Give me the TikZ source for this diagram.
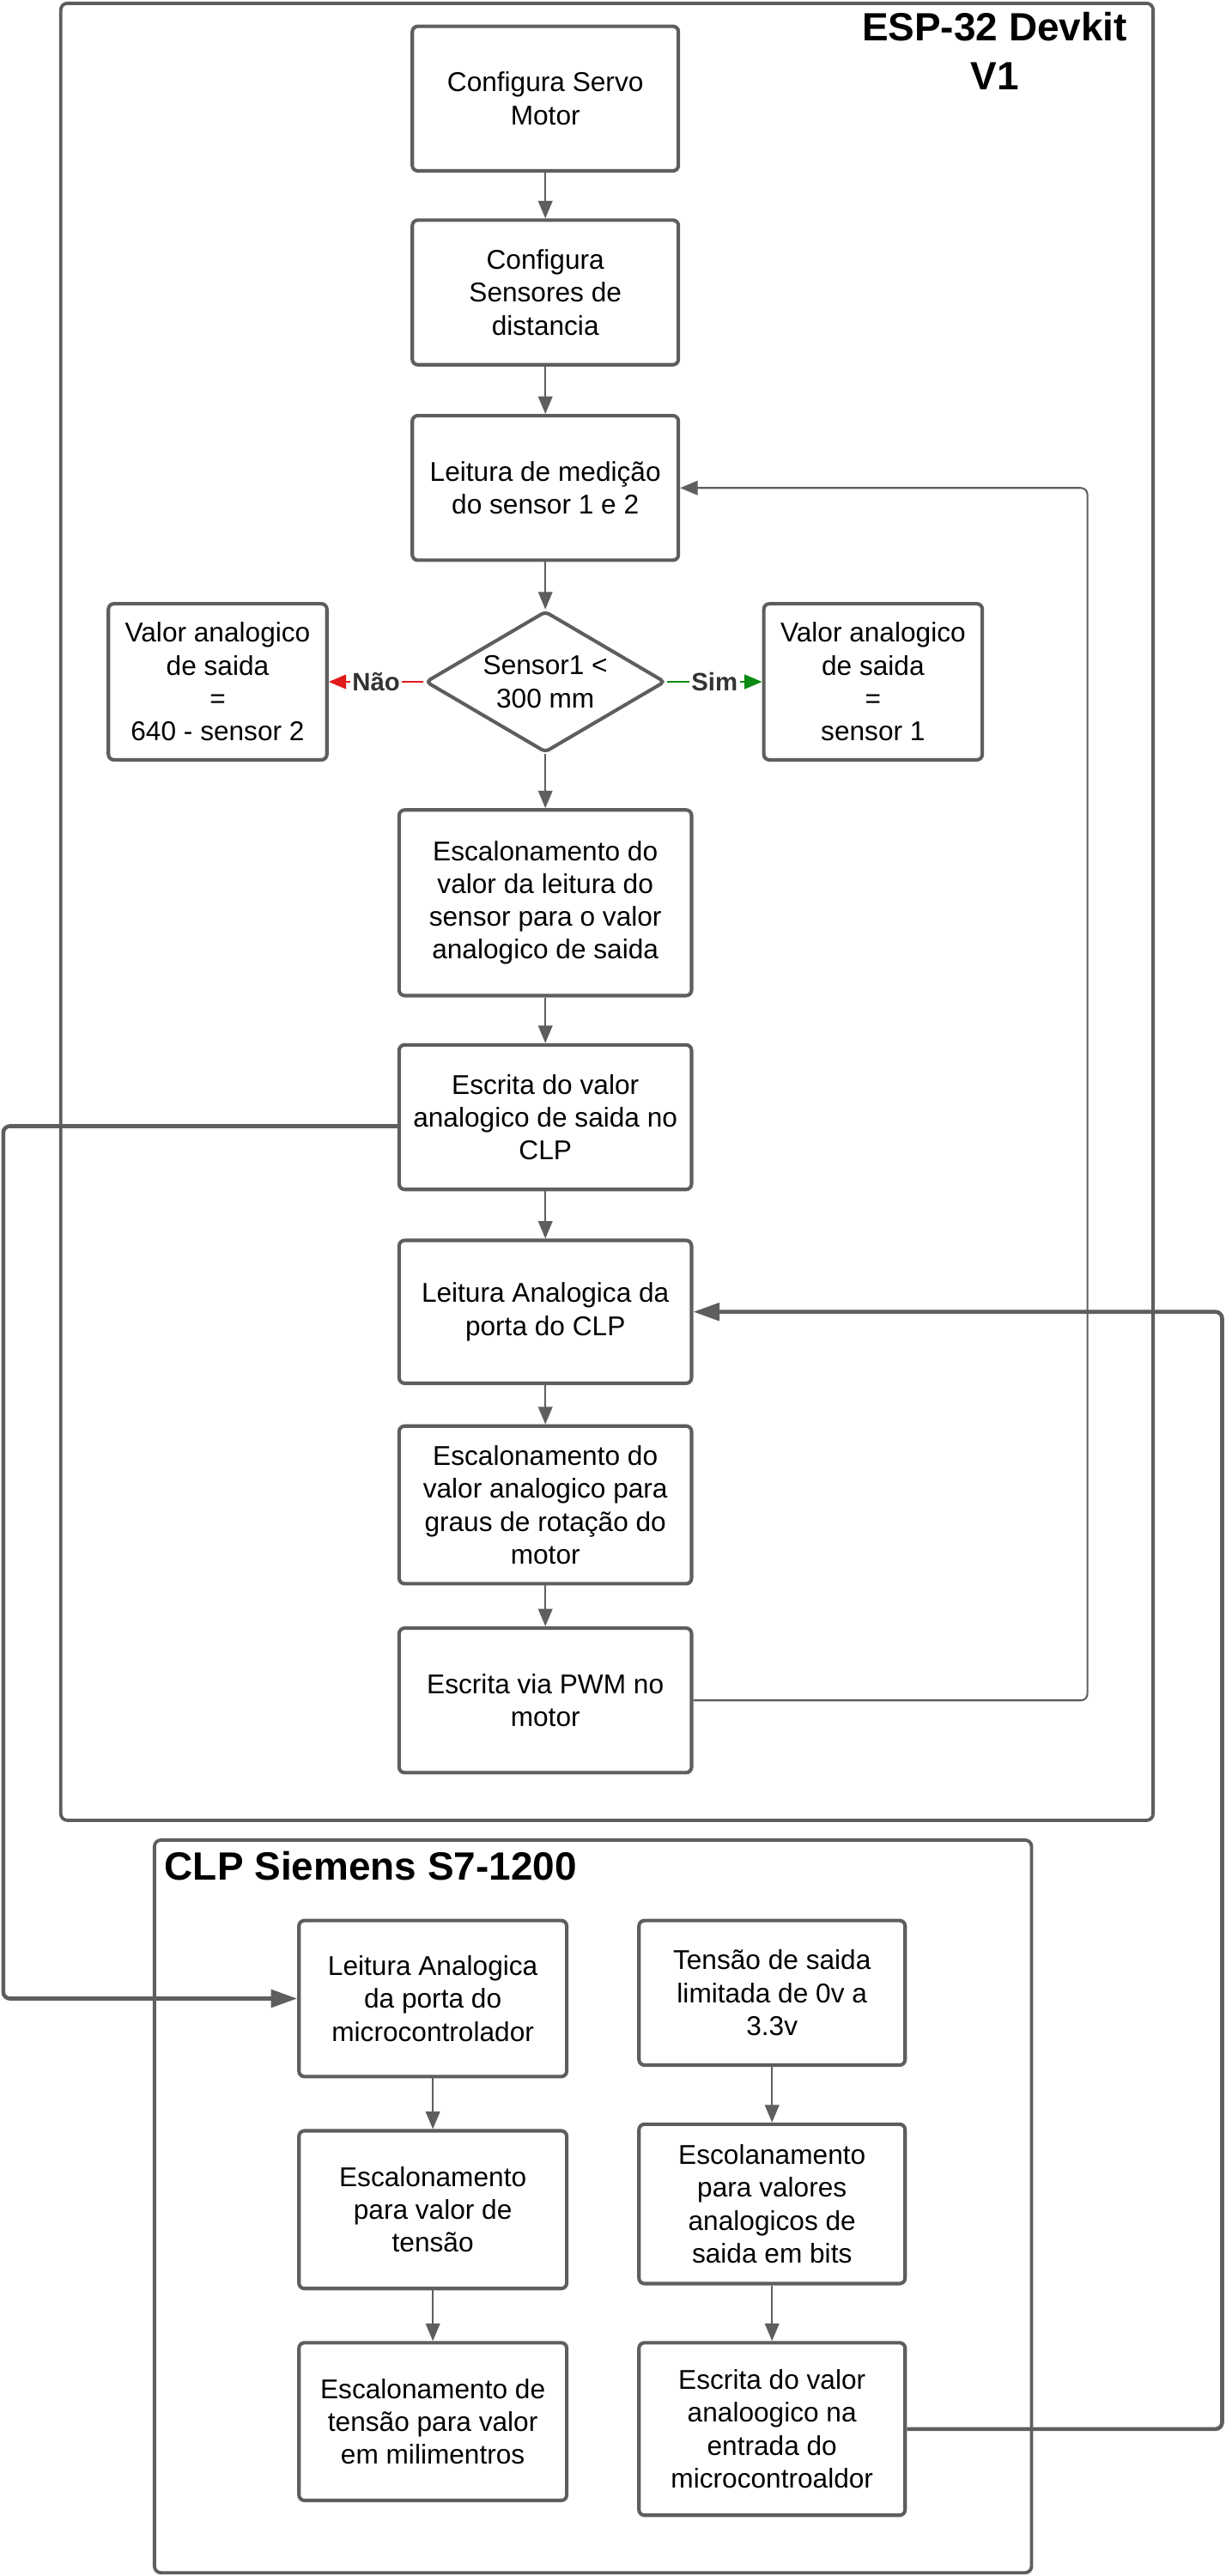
\documentclass[tikz,border=0pt]{standalone}
\usepackage{fontspec}
\setmainfont{Liberation Sans}
\usetikzlibrary{arrows.meta}
\usetikzlibrary{shapes.geometric}
\definecolor{linhacinza}{HTML}{5E5E5E}
\definecolor{naovermelho}{HTML}{E31A1C}
\definecolor{simverde}{HTML}{0A8A12}
\definecolor{rotulocinza}{HTML}{333333}

\begin{document}
\begin{tikzpicture}[x=0.75pt,y=-0.75pt,
                etapa/.style={draw=linhacinza,line width=1.6pt,rounded corners=2.5pt,fill=white,
                    align=center,inner sep=2pt,font=\fontsize{12.4}{15}\selectfont},
                decisao/.style={diamond,draw=linhacinza,line width=1.6pt,rounded corners=2pt,fill=white,
                    align=center,inner sep=0pt,aspect=1.7,minimum width=109.5pt,minimum height=64.5pt,
                    font=\fontsize{12.4}{15}\selectfont},
                bloco/.style={draw=linhacinza,line width=1.5pt,rounded corners=3pt},
                titulo/.style={inner sep=0pt,align=center,font=\bfseries\fontsize{18}{22}\selectfont},
                fluxo/.style={draw=linhacinza,line width=0.8pt,-{Triangle[length=8pt,width=6.5pt]}},
                retorno/.style={fluxo,rounded corners=3pt},
                ligacao/.style={draw=linhacinza,line width=1.8pt,rounded corners=3pt,-{Triangle[length=12pt,width=8pt]}},
                rotulo/.style={fill=white,inner sep=1pt,text=rotulocinza,font=\bfseries\fontsize{11.5}{13}\selectfont}]
                \useasboundingbox (0,0) rectangle (746,1568);

                \draw[bloco] (37,2) rectangle (702,1108);
                \draw[bloco] (94,1120) rectangle (628,1566);
                \node[titulo] (tituloesp) at (605.5,31) {ESP-32 Devkit\\V1};
                \node[titulo,anchor=west] (tituloclp) at (100,1136) {CLP Siemens S7-1200};

                \node[etapa,minimum width=121.5pt,minimum height=66pt] (servo) at (332,60) {Configura Servo\\Motor};
                \node[etapa,minimum width=121.5pt,minimum height=66pt] (sensores) at (332,178) {Configura\\Sensores de\\distancia};
                \node[etapa,minimum width=121.5pt,minimum height=66pt] (leitura) at (332,297) {Leitura de medição\\do sensor 1 e 2};
                \node[decisao] (compara) at (332,415) {Sensor1 <\\300 mm};
                \node[etapa,minimum width=99.75pt,minimum height=71.25pt] (valornao) at (132.5,415) {Valor analogico\\de saida\\=\\640 - sensor 2};
                \node[etapa,minimum width=99.75pt,minimum height=71.25pt] (valorsim) at (531.5,415) {Valor analogico\\de saida\\=\\sensor 1};
                \node[etapa,minimum width=133.5pt,minimum height=84.75pt] (escala) at (332,549.5) {Escalonamento do\\valor da leitura do\\sensor para o valor\\analogico de saida};
                \node[etapa,minimum width=133.5pt,minimum height=66pt] (escreveclp) at (332,680) {Escrita do valor\\analogico de saida no\\CLP};
                \node[etapa,minimum width=133.5pt,minimum height=65.25pt] (leclp) at (332,798.5) {Leitura Analogica da\\porta do CLP};
                \node[etapa,minimum width=133.5pt,minimum height=72pt] (escalagraus) at (332,916) {Escalonamento do\\valor analogico para\\graus de rotação do\\motor};
                \node[etapa,minimum width=133.5pt,minimum height=66pt] (pwm) at (332,1035) {Escrita via PWM no\\motor};

                \node[etapa,minimum width=122.25pt,minimum height=71.25pt] (leesp) at (263.5,1216.5) {Leitura Analogica\\da porta do\\microcontrolador};
                \node[etapa,minimum width=122.25pt,minimum height=72pt] (escalatensao) at (263.5,1345) {Escalonamento\\para valor de\\tensão};
                \node[etapa,minimum width=122.25pt,minimum height=72pt] (escalamm) at (263.5,1474) {Escalonamento de\\tensão para valor\\em milimentros};
                \node[etapa,minimum width=121.5pt,minimum height=66pt] (tensao) at (470,1213) {Tensão de saida\\limitada de 0v a\\3.3v};
                \node[etapa,minimum width=121.5pt,minimum height=72.75pt] (escalabits) at (470,1341.5) {Escolanamento\\para valores\\analogicos de\\saida em bits};
                \node[etapa,minimum width=121.5pt,minimum height=78.75pt] (escreveesp) at (470,1478.5) {Escrita do valor\\analoogico na\\entrada do\\microcontroaldor};

                \coordinate (dobra) at (662,0);
                \coordinate (esquerda) at (2,0);
                \coordinate (direita) at (744,0);

                \draw[fluxo] (servo) -- (sensores);
                \draw[fluxo] (sensores) -- (leitura);
                \draw[fluxo] (leitura) -- (compara);
                \draw[fluxo] (compara) -- (escala);
                \draw[fluxo] (escala) -- (escreveclp);
                \draw[fluxo] (escreveclp) -- (leclp);
                \draw[fluxo] (leclp) -- (escalagraus);
                \draw[fluxo] (escalagraus) -- (pwm);
                \draw[fluxo,draw=naovermelho,line width=1pt] (compara.west) -- node[rotulo] {Não} (valornao.east);
                \draw[fluxo,draw=simverde,line width=1pt] (compara.east) -- node[rotulo] {Sim} (valorsim.west);
                \draw[retorno] (pwm.east) -- (pwm.east -| dobra) |- (leitura.east);

                \draw[fluxo] (leesp) -- (escalatensao);
                \draw[fluxo] (escalatensao) -- (escalamm);
                \draw[fluxo] (tensao) -- (escalabits);
                \draw[fluxo] (escalabits) -- (escreveesp);

                \draw[ligacao] ([yshift=-4.1pt]escreveclp.west) -- ([yshift=-4.1pt]escreveclp.west -| esquerda) |- (leesp.west);
                \draw[ligacao] (escreveesp.east) -- (escreveesp.east -| direita) |- (leclp.east);
            \end{tikzpicture}
\end{document}
